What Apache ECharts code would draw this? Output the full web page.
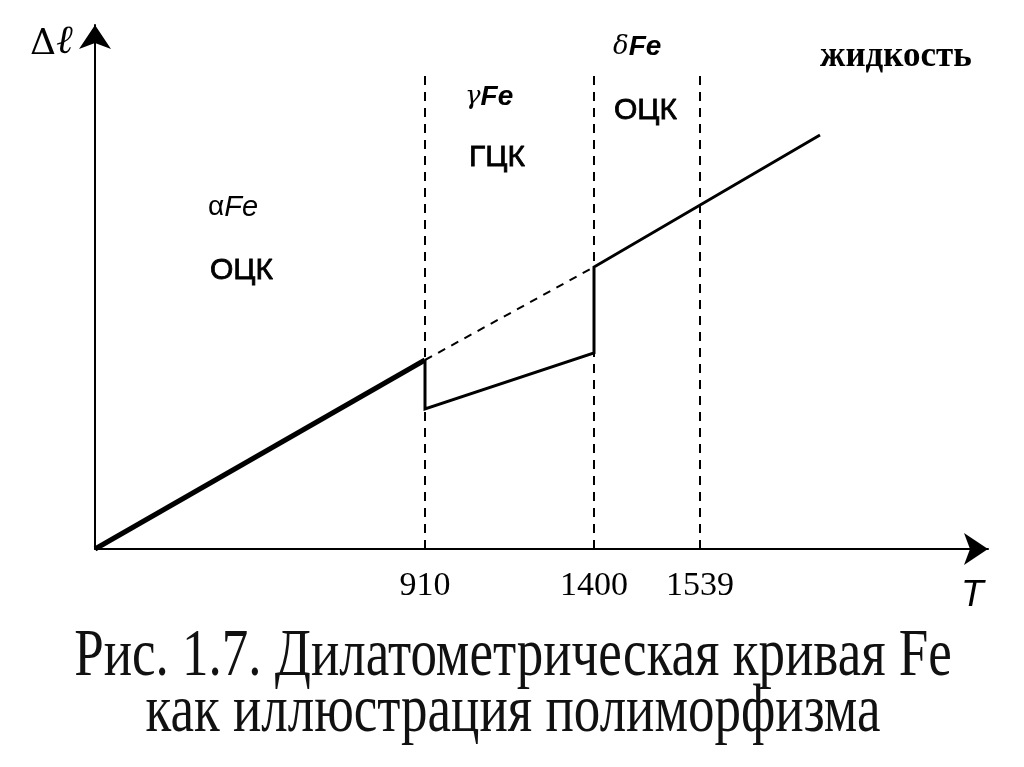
<!DOCTYPE html>
<html>
<head>
<meta charset="utf-8">
<script src="https://cdn.jsdelivr.net/npm/echarts@6/dist/echarts.min.js"></script>
<style>
  html, body { margin: 0; padding: 0; background: #fff; }
  #chart-container { width: 1024px; height: 767px; }
</style>
</head>
<body>
<div id="chart-container"></div>
<script>
// schematic temperature axis: transition points and where they sit on the axis
var tempLabels = ["910", "1400", "1539"];
var tempPos = [330, 499, 605];

// dilatometric curve (T position, Δl), arbitrary units
var alphaT = [0, 330];
var alphaDl = [0, 189];
var curveT = [330, 330, 499, 499, 725];
var curveDl = [189, 140, 196, 282, 414];
// extrapolated alpha line through the gamma region
var extraT = [330, 499];
var extraDl = [189, 282];
var guideTop = 477;

var captionLines = [
  "Рис. 1.7. Дилатометрическая кривая Fe",
  "как иллюстрация полиморфизма"
];

function pairs(xs, ys) {
  return xs.map(function (x, i) { return [x, ys[i]]; });
}

var dom = document.getElementById("chart-container");
var myChart = echarts.init(dom, null, { renderer: "canvas" });

var guideSeries = tempPos.map(function (t) {
  return {
    type: "line",
    data: [[t, 0], [t, guideTop]],
    symbol: "none",
    lineStyle: { color: "#000", width: 2, type: [9, 7] },
    z: 1
  };
});

var arrowAxis = {
  symbol: ["none", "arrow"],
  symbolSize: [24, 24],
  lineStyle: { color: "#000", width: 2 }
};

var phaseFont = "30px 'Liberation Sans'";

var option = {
  animation: false,
  backgroundColor: "#fff",
  grid: { left: 95, right: 36, top: 25, bottom: 218 },
  xAxis: {
    type: "value",
    min: 0,
    max: 893,
    splitLine: { show: false },
    axisTick: { show: false },
    axisLine: arrowAxis,
    axisLabel: {
      customValues: tempPos,
      formatter: function (v) { return tempLabels[tempPos.indexOf(v)]; },
      fontFamily: "Liberation Serif",
      fontSize: 34,
      color: "#000",
      margin: 20
    }
  },
  yAxis: {
    type: "value",
    min: 0,
    max: 524,
    splitLine: { show: false },
    axisTick: { show: false },
    axisLabel: { show: false },
    axisLine: arrowAxis
  },
  series: guideSeries.concat([
    {
      type: "line",
      data: pairs(extraT, extraDl),
      symbol: "none",
      lineStyle: { color: "#000", width: 2, type: [8, 7] },
      z: 2
    },
    {
      type: "line",
      data: pairs(alphaT, alphaDl),
      symbol: "none",
      lineStyle: { color: "#000", width: 5 },
      z: 3
    },
    {
      type: "line",
      data: pairs(curveT, curveDl),
      symbol: "none",
      lineStyle: { color: "#000", width: 3, join: "miter" },
      z: 3
    }
  ]),
  graphic: {
    elements: [
      {
        type: "text", x: 513, y: 657, scaleY: 1.28,
        style: {
          text: captionLines[0], font: "53px 'Liberation Serif'",
          fill: "#111", align: "center", verticalAlign: "middle"
        }
      },
      {
        type: "text", x: 513, y: 713, scaleY: 1.28,
        style: {
          text: captionLines[1], font: "53px 'Liberation Serif'",
          fill: "#111", align: "center", verticalAlign: "middle"
        }
      },
      {
        type: "text", x: 30, y: 63,
        style: {
          text: "{d|Δ}{l|ℓ}", verticalAlign: "bottom",
          rich: {
            d: { font: "36px 'DejaVu Serif'", fill: "#000", verticalAlign: "bottom" },
            l: { font: "italic 40px 'DejaVu Serif'", fill: "#000", verticalAlign: "bottom" }
          }
        }
      },
      {
        type: "text", x: 961, y: 577,
        style: { text: "T", font: "italic 37px 'Liberation Sans'", fill: "#000" }
      },
      {
        type: "text", x: 208, y: 193,
        style: {
          text: "{g|α}{f|Fe}",
          rich: {
            g: { font: "28px 'Liberation Sans'", fill: "#000" },
            f: { font: "italic 29px 'Liberation Sans'", fill: "#000" }
          }
        }
      },
      {
        type: "text", x: 210, y: 256,
        style: { text: "ОЦК", font: phaseFont, fill: "#000", stroke: "#000", lineWidth: 0.8 }
      },
      {
        type: "text", x: 465, y: 83,
        style: {
          text: "{g|γ}{f|Fe}",
          rich: {
            g: { font: "italic 26px 'DejaVu Serif'", fill: "#000" },
            f: { font: "italic bold 28px 'Liberation Sans'", fill: "#000" }
          }
        }
      },
      {
        type: "text", x: 469, y: 143,
        style: { text: "ГЦК", font: phaseFont, fill: "#000", stroke: "#000", lineWidth: 0.8 }
      },
      {
        type: "text", x: 613, y: 33,
        style: {
          text: "{g|δ}{f|Fe}",
          rich: {
            g: { font: "italic 26px 'DejaVu Serif'", fill: "#000" },
            f: { font: "italic bold 28px 'Liberation Sans'", fill: "#000" }
          }
        }
      },
      {
        type: "text", x: 614, y: 96,
        style: { text: "ОЦК", font: phaseFont, fill: "#000", stroke: "#000", lineWidth: 0.8 }
      },
      {
        type: "text", x: 820, y: 39,
        style: { text: "жидкость", font: "bold 35px 'Liberation Serif'", fill: "#000" }
      }
    ]
  }
};

if (option && typeof option === "object") {
  myChart.setOption(option);
}

window.addEventListener("resize", myChart.resize);
</script>
</body>
</html>
